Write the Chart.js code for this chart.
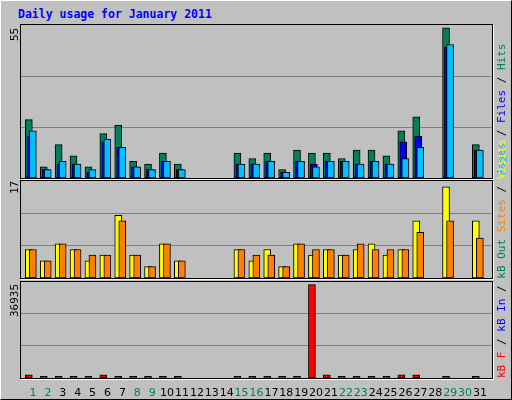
<!DOCTYPE html>
<html><head><meta charset="utf-8">
<script src="https://cdn.jsdelivr.net/npm/chart.js@4"></script>
<style>
body{margin:0;background:#fff}
#wrap{position:relative;width:510px;height:398px;background:#c0c0c0;border-left:1px solid #fff;border-top:1px solid #fff;border-right:1px solid #000;border-bottom:1px solid #000;overflow:hidden;font-family:"DejaVu Sans Mono",monospace}
canvas{position:absolute}
.frame{position:absolute;border:1px solid #000;box-shadow:1px 1px 0 #fff;pointer-events:none}
.title{position:absolute;left:17px;top:6px;color:#0000ff;font-weight:bold;font-size:11.5px}
.rot{position:absolute;transform-origin:0 0;transform:rotate(-90deg);white-space:nowrap;font-size:11px}
</style></head><body>
<div id="wrap">
<div class="title">Daily usage for January 2011</div>
<canvas id="c1" width="472" height="153" style="left:19px;top:24px"></canvas>
<canvas id="c2" width="472" height="97" style="left:19px;top:180px"></canvas>
<canvas id="c3" width="472" height="119" style="left:19px;top:280px"></canvas>
<div class="frame" style="left:19px;top:23px;width:471px;height:153px"></div>
<div class="frame" style="left:19px;top:179px;width:471px;height:97px"></div>
<div class="frame" style="left:19px;top:280px;width:471px;height:96px"></div>
<div class="rot" style="left:7px;top:40px">55</div>
<div class="rot" style="left:7px;top:193px">17</div>
<div class="rot" style="left:7px;top:316px">36935</div>
<div class="rot" style="left:494px;top:175px"><span style="color:#00c0ff">Pages</span> / <span style="color:#0000ff">Files</span> / <span style="color:#00805c">Hits</span></div>
<div class="rot" style="left:494px;top:377px"><span style="color:#ff0000">kB F</span> / <span style="color:#0000ff">kB In</span> / <span style="color:#00805c">kB Out</span> <span style="color:#ff8000">Sites</span> / <span style="color:#ffff00">Visits</span></div>
</div>
<script>
const days=[1,2,3,4,5,6,7,8,9,10,11,12,13,14,15,16,17,18,19,20,21,22,23,24,25,26,27,28,29,30,31];
const weekend=[1,2,8,9,15,16,22,23,29,30];
const hits=[21,4,12,8,4,16,19,6,5,9,5,0,0,0,9,7,9,3,10,9,9,7,10,10,8,17,22,0,54,0,12];
const files=[15,3,5,5,2,13,11,4,3,6,3,0,0,0,5,5,6,2,6,5,6,6,5,6,5,13,15,0,47,0,10];
const pages=[17,3,6,5,3,14,11,4,3,6,3,0,0,0,5,5,6,2,6,4,6,6,5,6,5,7,11,0,48,0,10];
const visits=[5,3,6,5,3,4,11,4,2,6,3,0,0,0,5,3,5,2,6,4,5,4,5,6,4,5,10,0,16,0,10];
const sites=[5,3,6,5,4,4,10,4,2,6,3,0,0,0,5,4,4,2,6,5,5,4,6,5,5,5,8,0,10,0,7];
const kbF=[1200,600,600,600,600,1200,600,600,600,600,600,0,0,0,600,600,600,600,600,35540,1200,600,600,600,600,1200,1200,0,600,0,600];
const yMax=[55,17,36935];

const XMIN=0.1275, XMAX=31.805;
function pts(vals,off){return days.map((d,i)=>({x:d+off,y:vals[i]})).filter(p=>p.y>0);}
function ds(vals,off,color,order){return {data:pts(vals,off),backgroundColor:color,borderColor:'#000',borderWidth:1,barThickness:7,grouped:false,order:order,borderSkipped:false};}
function make(id,datasets,max,showX){
  new Chart(document.getElementById(id),{type:'bar',data:{datasets},
  options:{responsive:false,animation:false,layout:{padding:0},
   plugins:{legend:{display:false},tooltip:{enabled:false}},
   scales:{
    x:{type:'linear',min:XMIN,max:XMAX,offset:false,display:showX,grid:{display:false},border:{display:false},
      afterBuildTicks:s=>{s.ticks=days.map(d=>({value:d}));},
      afterFit:s=>{s.height=showX?22:0;},
      ticks:{autoSkip:false,maxRotation:0,padding:1,font:{family:'DejaVu Sans',size:11},
        color:c=>weekend.includes(c.tick.value)?'#00805c':'#000',callback:v=>String(v)}},
    y:{min:0,max:max,display:true,grid:{color:'#808080',drawTicks:false},border:{display:false},
      afterBuildTicks:s=>{s.ticks=[{value:max/3},{value:2*max/3}];},
      afterFit:s=>{s.width=0;},ticks:{display:false}}
   }}});
}
make('c1',[ds(hits,-0.28,'#00805c',2),ds(files,-0.15,'#0000ff',1),ds(pages,-0.01,'#00c0ff',0)],yMax[0],false);
make('c2',[ds(visits,-0.28,'#ffff00',1),ds(sites,-0.01,'#ff8000',0)],yMax[1],false);
make('c3',[ds(kbF,-0.28,'#ff0000',0)],yMax[2],true);
</script>
</body></html>
